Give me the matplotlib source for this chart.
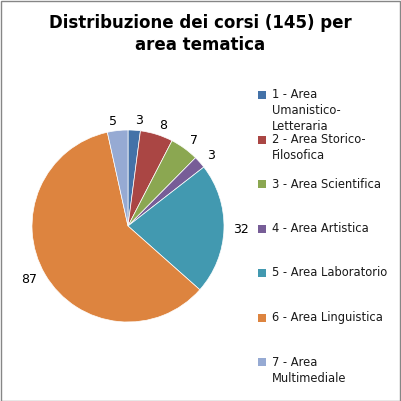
import matplotlib.pyplot as plt
from matplotlib.patches import Rectangle

categories = ['1 - Area\nUmanistico-\nLetteraria', '2 - Area Storico-\nFilosofica',
              '3 - Area Scientifica', '4 - Area Artistica', '5 - Area Laboratorio',
              '6 - Area Linguistica', '7 - Area\nMultimediale']
values = [3, 8, 7, 3, 32, 87, 5]
colors = ['#4472A8', '#AA4644', '#8BA751', '#775D97', '#4299B0', '#DD843F', '#96AAD3']

W = 401
fig = plt.figure(figsize=(4.01, 4.01), dpi=100)
fig.patch.set_facecolor('white')

# grey border like the Excel chart area
fig.patches.append(Rectangle((0.5 / W, 0.5 / W), 1 - 1.5 / W, 1 - 1.5 / W,
                             transform=fig.transFigure, fill=False,
                             edgecolor='#868686', linewidth=1))

fig.text(200 / W, 1 - 34 / W, 'Distribuzione dei corsi (145) per\narea tematica',
         ha='center', va='center', fontsize=12, fontweight='bold', linespacing=1.35)

cx, cy, r = 128, 226, 96
ax = fig.add_axes([(cx - r) / W, 1 - (cy + r) / W, 2 * r / W, 2 * r / W])
wedges, texts = ax.pie(values, colors=colors, startangle=90, counterclock=False,
                       labels=[str(v) for v in values], labeldistance=1.1,
                       wedgeprops=dict(edgecolor='white', linewidth=0.5),
                       textprops=dict(fontsize=9))
ax.set_xlim(-1, 1)
ax.set_ylim(-1, 1)
ax.set_aspect('equal')

# legend, Excel style: marker beside first line of each entry
for i, (lab, col) in enumerate(zip(categories, colors)):
    y = 95 + i * 44.5
    fig.patches.append(Rectangle((258 / W, 1 - (y + 4) / W), 8 / W, 8 / W,
                                 transform=fig.transFigure, facecolor=col,
                                 edgecolor='none'))
    fig.text(272 / W, 1 - (y - 6.5) / W, lab, ha='left', va='top', fontsize=8.3,
             linespacing=1.3, color='#1a1a1a')

fig.savefig('out.png', dpi=100)
